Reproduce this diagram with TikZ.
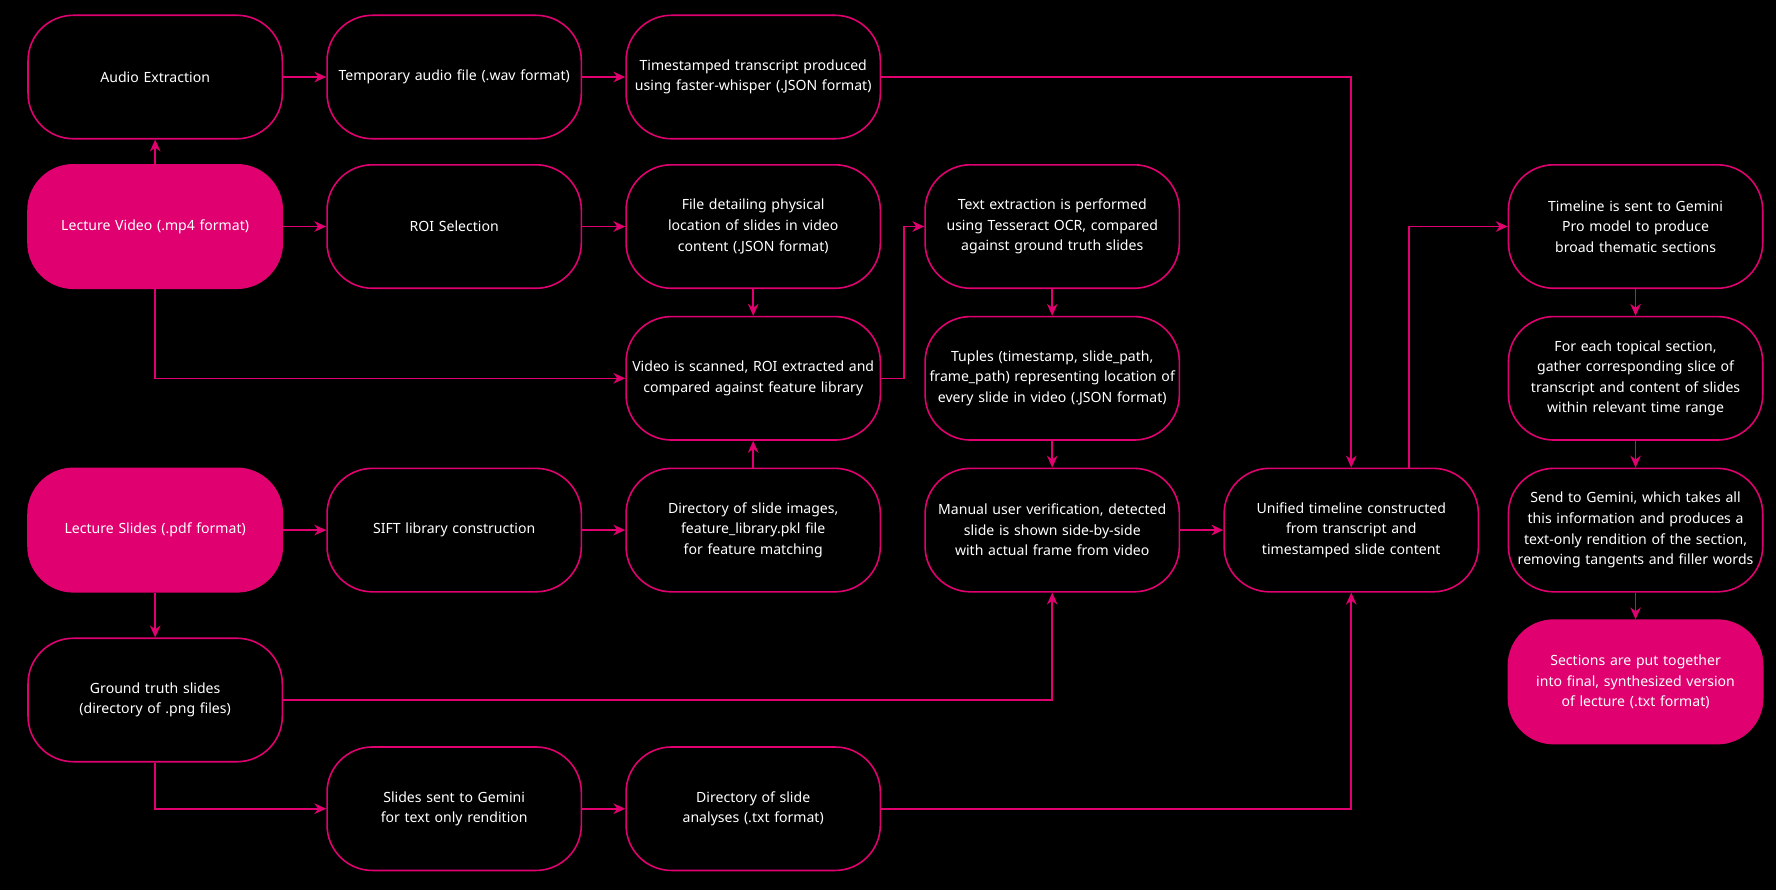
\documentclass[tikz,border=0pt]{standalone}
\usepackage{fontspec}
\setmainfont{Noto Sans}
\usetikzlibrary{arrows.meta}
\definecolor{pink}{HTML}{E0006F}
\hyphenpenalty=10000
\exhyphenpenalty=10000

\tikzset{
  box/.style={draw=pink,line width=1.2pt,rounded corners=1.2cm,minimum width=6.72cm,
    minimum height=3.27cm,text width=6.5cm,align=center,text=white,
    font=\fontsize{10.6}{15.5}\selectfont},
  src/.style={box,fill=pink},
  link/.style={draw=pink,line width=1.2pt,-{Stealth[length=9pt,width=8pt]}}
}

\begin{document}
\begin{tikzpicture}[x=0.03cm,y=-0.03cm]
\fill[black] (0,0) rectangle (1568,786);
\useasboundingbox (0,0) rectangle (1568,786);

% column 1
\node[box] (audio) at (137,68) {Audio Extraction};
\node[src] (video) at (137,200) {Lecture Video (.mp4 format)};
\node[src] (slides) at (137,468) {Lecture Slides (.pdf format)};
\node[box] (truth) at (137,618) {Ground truth slides (directory of .png files)};

% column 2
\node[box] (wav) at (401,68) {Temporary audio file (.wav format)};
\node[box] (roi) at (401,200) {ROI Selection};
\node[box] (sift) at (401,468) {SIFT library construction};
\node[box] (sent) at (401,714) {Slides sent to Gemini for text only rendition};

% column 3
\node[box] (transcript) at (665,68) {Timestamped transcript produced using faster-whisper (.JSON format)};
\node[box] (location) at (665,200) {File detailing physical location of slides in video content (.JSON format)};
\node[box] (scan) at (665,334) {Video is scanned, ROI extracted and compared against feature library};
\node[box] (library) at (665,468) {Directory of slide images, feature\_library.pkl file for feature matching};
\node[box] (analyses) at (665,714) {Directory of slide analyses (.txt format)};

% column 4
\node[box] (ocr) at (929,200) {Text extraction is performed using Tesseract OCR, compared against ground truth slides};
\node[box] (tuples) at (929,334) {Tuples (timestamp, slide\_path, frame\_path) representing location of every slide in video (.JSON format)};
\node[box] (manual) at (929,468) {Manual user verification, detected slide is shown side-by-side with actual frame from video};

% column 5
\node[box] (unified) at (1193,468) {Unified timeline constructed from transcript and timestamped slide content};

% column 6
\node[box] (themes) at (1444,200) {Timeline is sent to Gemini Pro model to produce broad thematic sections};
\node[box] (gather) at (1444,334) {For each topical section, gather corresponding slice of transcript and content of slides within relevant time range};
\node[box] (gemini) at (1444,468) {Send to Gemini, which takes all this information and produces a text-only rendition of the section, removing tangents and filler words};
\node[src] (final) at (1444,602) {Sections are put together into final, synthesized version of lecture (.txt format)};

% connectors
\draw[link] (video) -- (audio);
\draw[link] (audio) -- (wav);
\draw[link] (wav) -- (transcript);
\draw[link] (transcript.east) -| (unified.north);
\draw[link] (video) -- (roi);
\draw[link] (roi) -- (location);
\draw[link] (location) -- (scan);
\draw[link] (video.south) |- (scan.west);
\draw[link] (scan.east) -- ++(20,0) |- (ocr.west);
\draw[link] (ocr) -- (tuples);
\draw[link] (tuples) -- (manual);
\draw[link] (manual) -- (unified);
\draw[link] (slides) -- (sift);
\draw[link] (sift) -- (library);
\draw[link] (library) -- (scan);
\draw[link] (slides) -- (truth);
\draw[link] (truth.east) -| (manual.south);
\draw[link] (truth.south) |- (sent.west);
\draw[link] (sent) -- (analyses);
\draw[link] (analyses.east) -| (unified.south);
\draw[link] (unified.north east) ++(-62,0) |- (themes.west);
\draw[link] (themes) -- (gather);
\draw[link] (gather) -- (gemini);
\draw[link] (gemini) -- (final);
\end{tikzpicture}
\end{document}
